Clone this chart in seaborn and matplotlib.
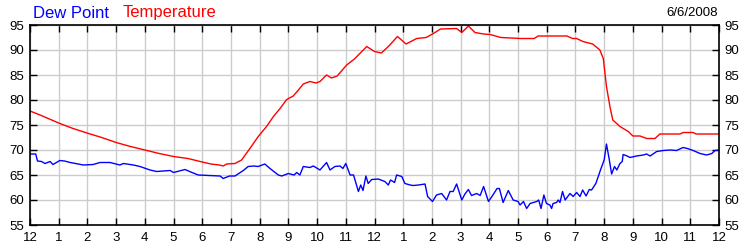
import matplotlib
matplotlib.use("Agg")
import matplotlib.pyplot as plt
import seaborn as sns
import pandas as pd

temp_hours = [0.0, 0.35, 1.04, 1.5, 2.04, 2.5, 3.0, 3.5, 4.0, 4.5, 5.0, 5.5, 6.0, 6.3, 6.6, 6.73,
              6.85, 7.14, 7.37, 7.66, 7.95, 8.24, 8.48, 8.71, 8.94, 9.17, 9.35, 9.52, 9.75, 9.96,
              10.1, 10.33, 10.5, 10.7, 11.03, 11.3, 11.73, 12.0, 12.24, 12.5, 12.8, 13.1, 13.47,
              13.8, 14.05, 14.3, 14.86, 15.04, 15.27, 15.5, 15.8, 16.03, 16.4, 17.1, 17.56, 17.7,
              18.7, 18.9, 19.04, 19.26, 19.6, 19.85, 19.97, 20.08, 20.2, 20.3, 20.55, 20.84, 21.0,
              21.25, 21.48, 21.77, 21.94, 22.64, 22.75, 23.1, 23.2, 24.0]
temperature = [77.8, 77.0, 75.3, 74.3, 73.3, 72.5, 71.5, 70.7, 70.0, 69.3, 68.7, 68.3, 67.6, 67.2, 67.0, 66.8,
               67.2, 67.3, 68.0, 70.3, 72.7, 74.7, 76.7, 78.3, 80.1, 80.8, 82.0, 83.2, 83.7, 83.4,
               83.7, 85.0, 84.4, 84.8, 87.0, 88.2, 90.7, 89.7, 89.4, 90.8, 92.7, 91.2, 92.3,
               92.5, 93.3, 94.2, 94.3, 93.5, 94.8, 93.5, 93.2, 93.1, 92.5, 92.3, 92.3, 92.8,
               92.8, 92.3, 92.3, 91.7, 91.2, 90.0, 88.3, 82.7, 78.7, 76.0, 74.7, 73.7, 72.8,
               72.8, 72.3, 72.3, 73.2, 73.2, 73.5, 73.5, 73.2, 73.2]

dew_hours = [0.0, 0.2, 0.26, 0.4, 0.52, 0.7, 0.8, 1.04, 1.2, 1.4, 1.86, 2.2, 2.44, 2.79, 3.13, 3.25,
             3.6, 3.83, 4.18, 4.41, 4.88, 5.0, 5.4, 5.6, 5.86, 6.62, 6.73, 6.95, 7.14, 7.43, 7.6,
             7.8, 7.95, 8.18, 8.36, 8.65, 8.77, 9.0, 9.2, 9.29, 9.4, 9.52, 9.75, 9.87, 10.1, 10.33,
             10.45, 10.62, 10.8, 10.9, 11.0, 11.15, 11.27, 11.44, 11.52, 11.6, 11.7, 11.78, 11.9,
             12.13, 12.36, 12.48, 12.56, 12.7, 12.77, 12.95, 13.06, 13.24, 13.35, 13.53, 13.76,
             13.85, 14.02, 14.16, 14.34, 14.51, 14.63, 14.74, 14.86, 15.04, 15.15, 15.27, 15.38,
             15.56, 15.68, 15.8, 15.97, 16.09, 16.27, 16.35, 16.48, 16.66, 16.83, 17.0, 17.07,
             17.19, 17.3, 17.42, 17.65, 17.72, 17.8, 17.9, 17.99, 18.11, 18.17, 18.22, 18.34,
             18.4, 18.46, 18.55, 18.64, 18.81, 18.92, 19.04, 19.16, 19.25, 19.37, 19.48, 19.56,
             19.71, 19.89, 20.0, 20.08, 20.18, 20.26, 20.36, 20.44, 20.55, 20.63, 20.66, 20.8,
             20.9, 21.13, 21.36, 21.48, 21.6, 21.83, 22.06, 22.3, 22.52, 22.75, 22.9, 23.1, 23.34,
             23.57, 23.75, 23.86, 24.0]
dew_point = [69.2, 69.2, 67.8, 67.7, 67.3, 67.7, 67.1, 67.9, 67.8, 67.5, 67.0, 67.1, 67.5, 67.5, 67.0, 67.3,
             67.0, 66.7, 66.0, 65.7, 65.9, 65.5, 66.1, 65.6, 65.0, 64.8, 64.3, 64.8, 64.8, 65.9, 66.7,
             66.8, 66.7, 67.2, 66.3, 65.0, 64.8, 65.3, 65.0, 65.5, 65.0, 66.7, 66.5, 66.8, 66.0, 67.5,
             66.0, 66.7, 66.8, 66.3, 67.3, 65.0, 65.0, 61.7, 63.0, 61.9, 64.8, 63.3, 64.1,
             64.2, 63.7, 63.0, 64.0, 63.5, 65.0, 64.7, 63.3, 63.0, 62.9, 63.0, 63.2,
             60.7, 59.7, 61.0, 61.3, 60.0, 61.7, 61.7, 63.2, 60.0, 61.2, 62.1, 60.9,
             61.3, 60.9, 62.7, 59.7, 60.7, 62.3, 62.3, 59.5, 61.9, 60.0, 59.7, 59.0,
             59.7, 58.3, 59.3, 59.7, 60.0, 58.3, 61.0, 59.3, 59.0, 58.3, 59.3, 59.5,
             60.0, 59.5, 61.7, 60.0, 61.3, 60.7, 61.5, 60.7, 62.0, 60.8, 62.1, 62.0,
             63.3, 66.3, 68.0, 71.2, 68.0, 65.2, 66.7, 66.0, 67.3, 67.7, 69.1, 68.8,
             68.5, 68.8, 69.0, 69.2, 68.8, 69.7, 69.9, 70.0, 69.9, 70.5, 70.3, 69.9, 69.3,
             69.0, 69.3, 69.9, 70.0]

x_tick_labels = ["12", "1", "2", "3", "4", "5", "6", "7", "8", "9", "10", "11",
                 "12", "1", "2", "3", "4", "5", "6", "7", "8", "9", "10", "11", "12"]
y_ticks = [55, 60, 65, 70, 75, 80, 85, 90, 95]
date_text = "6/6/2008"

sns.set_style("white")
plt.rcParams["font.family"] = ["Liberation Sans", "DejaVu Sans"]

temp_df = pd.DataFrame({"hour": temp_hours, "value": temperature})
dew_df = pd.DataFrame({"hour": dew_hours, "value": dew_point})

fig = plt.figure(figsize=(7.5, 2.5), dpi=100)
ax = fig.add_axes([30 / 750, 25 / 250, 689 / 750, 200 / 250])

ax.set_xlim(0, 24)
ax.set_ylim(55, 95)
ax.set_xticks(range(25))
ax.set_xticklabels(x_tick_labels)
ax.set_yticks(y_ticks)
ax.grid(True, color="#cccccc", linewidth=1)
ax.set_axisbelow(True)

sns.lineplot(data=temp_df, x="hour", y="value", color="#ff0000", linewidth=1, ax=ax, sort=False)
sns.lineplot(data=dew_df, x="hour", y="value", color="#0000ff", linewidth=1, ax=ax, sort=False)

ax.set_xlabel("")
ax.set_ylabel("")
for s in ax.spines.values():
    s.set_color("black")
    s.set_linewidth(1.2)
    s.set_visible(True)

ax.tick_params(axis="both", which="major", direction="in", length=5, width=1, color="black",
               labelsize=9.5, labelcolor="black", top=True, right=True,
               labelleft=True, labelright=True, labelbottom=True, labeltop=False,
               left=True, bottom=True)
ax.tick_params(axis="x", pad=5)
ax.tick_params(axis="y", pad=4)

fig.text(33 / 750, 1 - 13 / 250, "Dew Point", color="#0000ff", fontsize=12, va="center", ha="left")
fig.text(123 / 750, 1 - 13 / 250, "Temperature", color="#ff0000", fontsize=12, va="center", ha="left")
fig.text(718 / 750, 1 - 13 / 250, date_text, color="black", fontsize=9.5, va="center", ha="right")

fig.savefig("out.png", dpi=100)
